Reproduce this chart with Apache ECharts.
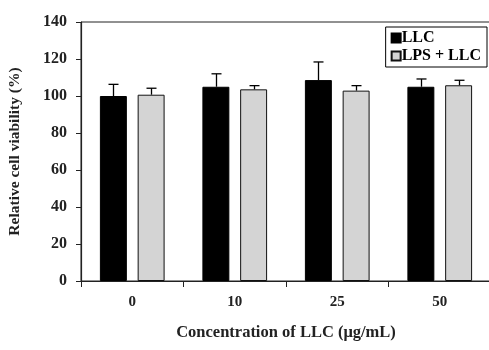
<!DOCTYPE html>
<html><head><meta charset="utf-8">
<script src="https://cdn.jsdelivr.net/npm/echarts@6/dist/echarts.min.js"></script>
<style>html,body{margin:0;padding:0;background:#fff}#c{width:489px;height:350px}</style>
</head><body><div id="c"></div>
<script>
const categories = ['0', '10', '25', '50'];
const llc = [100, 105, 108.6, 105];
const llcErr = [106.3, 112, 118.4, 109.2];
const lpsLlc = [100.7, 103.6, 102.9, 105.8];
const lpsLlcErr = [104.2, 105.6, 105.6, 108.5];
const yTicks = [0, 20, 40, 60, 80, 100, 120, 140];

const FONT = '"Liberation Serif", "Times New Roman", serif';
const BAR_FRAC = 0.263, GAP = 0.4;

function errSeries(name, tops, vals, side) {
  return {
    type: 'custom', name: name + ' err', silent: true, z: 5,
    data: tops.map((t, i) => [i, vals[i], t]),
    renderItem: function (params, api) {
      const i = api.value(0);
      const band = api.size([1, 0])[0];
      const bw = band * BAR_FRAC;
      const off = side * bw * (1 + GAP) / 2;
      const base = api.coord([i, api.value(1)]);
      const top = api.coord([i, api.value(2)]);
      const x = Math.round(base[0] + off) + 0.5;
      const st = { stroke: '#000', lineWidth: 1.3 };
      return { type: 'group', children: [
        { type: 'line', shape: { x1: x, y1: base[1], x2: x, y2: top[1] }, style: st },
        { type: 'line', shape: { x1: x - 5, y1: top[1], x2: x + 5, y2: top[1] }, style: st }
      ]};
    }
  };
}

const chart = echarts.init(document.getElementById('c'), null, { renderer: 'canvas' });
chart.setOption({
  animation: false,
  backgroundColor: '#fff',
  grid: { left: 81, top: 22, right: -2, bottom: 69, show: true, borderColor: '#222', borderWidth: 1,
    containLabel: false, outerBoundsMode: 'none' },
  legend: {
    orient: 'vertical', right: 2, top: 27, itemWidth: 9, itemHeight: 9, itemGap: 2, icon: 'rect',
    padding: [3, 6, 3, 5], borderColor: '#000', borderWidth: 1, backgroundColor: '#fff',
    data: ['LLC', 'LPS + LLC'],
    textStyle: { fontFamily: FONT, fontWeight: 'bold', fontSize: 16, color: '#000', padding: [0, 0, 0, -4] }
  },
  xAxis: {
    type: 'category', data: categories,
    axisLine: { lineStyle: { color: '#222', width: 1.2 } },
    axisTick: { show: true, length: 6, lineStyle: { color: '#222' } },
    axisLabel: { fontFamily: FONT, fontWeight: 'bold', fontSize: 15, color: '#222', margin: 14 },
    name: 'Concentration of LLC (μg/mL)', nameLocation: 'middle', nameGap: 43,
    nameTextStyle: { fontFamily: FONT, fontWeight: 'bold', fontSize: 16.5, color: '#222' }
  },
  yAxis: {
    type: 'value', min: 0, max: 140, interval: 20,
    axisLine: { show: true, lineStyle: { color: '#222', width: 1.2 } },
    axisTick: { show: true, length: 5, lineStyle: { color: '#222' } },
    splitLine: { show: false },
    axisLabel: { fontFamily: FONT, fontWeight: 'bold', fontSize: 16, color: '#222', margin: 14,
      formatter: v => yTicks.includes(v) ? String(v) : '' },
    name: 'Relative cell viability (%)', nameLocation: 'middle', nameGap: 58,
    nameTextStyle: { fontFamily: FONT, fontWeight: 'bold', fontSize: 15.5, color: '#222' }
  },
  series: [
    { name: 'LLC', type: 'bar', data: llc, barWidth: (BAR_FRAC * 100) + '%', barGap: (GAP * 100) + '%',
      itemStyle: { color: '#000', borderColor: '#000', borderWidth: 1 } },
    { name: 'LPS + LLC', type: 'bar', data: lpsLlc, barWidth: (BAR_FRAC * 100) + '%',
      itemStyle: { color: '#d4d4d4', borderColor: '#111', borderWidth: 1 } },
    errSeries('LLC', llcErr, llc, -1),
    errSeries('LPS + LLC', lpsLlcErr, lpsLlc, 1)
  ]
});
</script></body></html>
